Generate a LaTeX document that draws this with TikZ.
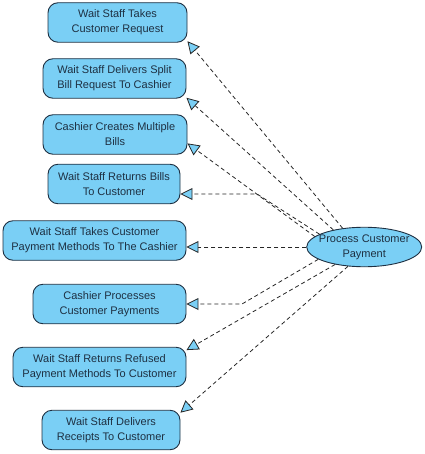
\documentclass[tikz,border=0pt]{standalone}
\usepackage{fontspec}
\setmainfont{Liberation Sans}
\usetikzlibrary{shapes.geometric,arrows.meta}
\definecolor{ucfill}{RGB}{122,207,245}
\definecolor{ucline}{RGB}{30,48,66}

\begin{document}
\begin{tikzpicture}
[
 x=1pt, y=-1pt,
 font=\fontsize{11}{15}\selectfont,
 >={Triangle[length=12pt,width=12pt,fill=ucfill]},
 usecase/.style = {draw=ucline, fill=ucfill, rounded corners=10pt, align=center, text=ucline, inner sep=0pt, minimum height=39.5pt, line width=0.9pt},
 process/.style = {draw=ucline, fill=ucfill, ellipse, inner sep=0pt, minimum width=115pt, minimum height=39.5pt, line width=0.9pt},
 extend/.style = {->, dash pattern=on 4pt off 3pt, draw=black!85, line width=0.8pt},
]
\useasboundingbox (0,0) rectangle (424,454);

\node (b1) at (117.5,22.5) [usecase, minimum width=139pt] {Wait Staff Takes\\Customer Request};
\node (b2) at (114.5,78.5) [usecase, minimum width=143pt] {Wait Staff Delivers Split\\Bill Request To Cashier};
\node (b3) at (115,134.5) [usecase, minimum width=144pt] {Cashier Creates Multiple\\Bills};
\node (b4) at (114,184) [usecase, minimum width=132pt] {Wait Staff Returns Bills\\To Customer};
\node (b5) at (94.5,240.5) [usecase, minimum width=183pt] {Wait Staff Takes Customer\\Payment Methods To The Cashier};
\node (b6) at (109.5,304) [usecase, minimum width=153pt] {Cashier Processes\\Customer Payments};
\node (b7) at (99.5,367) [usecase, minimum width=173pt] {Wait Staff Returns Refused\\Payment Methods To Customer};
\node (b8) at (111,430) [usecase, minimum width=138pt] {Wait Staff Delivers\\Receipts To Customer};

\node (proc) at (364.2,247) [process] {};
\node (proct) at (proc) [align=center, text=ucline] {Process Customer\\Payment};

\coordinate (k4) at (257,194);
\coordinate (k6) at (242,304);

\draw[extend] (proc.139) -- (b1.-15.3);
\draw[extend] (proc.151.3) -- (b2.-15.1);
\draw[extend] (proc.168.8) -- (b3.-7.5);
\draw[extend] (proc.164.7) -- (k4) -- (b4.east |- k4);
\draw[extend] (proc.west) -- (b5.east |- proc.west);
\draw[extend] (proc.195.3) -- (k6) -- (b6.east);
\draw[extend] (proc.211.5) -- (b7.11.6);
\draw[extend] (proc.230.3) -- (b8.14.3);

\end{tikzpicture}
\end{document}
